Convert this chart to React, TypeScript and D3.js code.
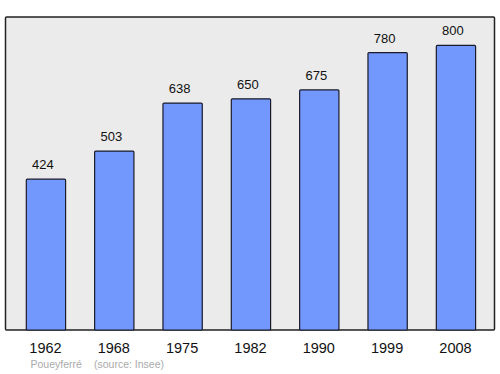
import React from "react";
import * as d3 from "d3";

const years = ["1962", "1968", "1975", "1982", "1990", "1999", "2008"];
const population = [424, 503, 638, 650, 675, 780, 800];
const commune = "Poueyferré";
const source = "(source: Insee)";

export default function App() {
  const W = 500, H = 374;
  const frame = { x0: 5.5, y0: 17, x1: 494.5, y1: 330 };
  const xs = d3.scaleBand<string>().domain(years).range([26.3, 475.6]).paddingInner(0.425).paddingOuter(0);
  const y = d3.scaleLinear().domain([0, 880]).range([frame.y1, frame.y0]);
  const bw = xs.bandwidth();
  return (
    <svg width={W} height={H} style={{ position: "absolute", left: 0, top: 0 }}
      fontFamily="'Liberation Sans', Arial, sans-serif">
      <rect x={frame.x0} y={frame.y0} width={frame.x1 - frame.x0} height={frame.y1 - frame.y0}
        fill="#ebebeb" stroke="#222" strokeWidth={1.5} rx={1} />
      {years.map((yr, i) => {
        const bx = xs(yr)!;
        const top = y(population[i]);
        return (
          <g key={yr}>
            <rect x={bx} y={top} width={bw} height={frame.y1 - top} fill="#7298fe" stroke="#1a1a2a" strokeWidth={1.2} rx={1} />
            <text x={bx + bw / 2 - 3} y={top - 10} textAnchor="middle" fontSize={13} fill="#111">{population[i]}</text>
            <text x={bx + bw / 2 - 0.5} y={352.5} textAnchor="middle" fontSize={14.5} fill="#111">{yr}</text>
          </g>
        );
      })}
      <text x={30.5} y={367.5} fontSize={10.5} fill="#aaaaaa">{commune}</text>
      <text x={94} y={367.5} fontSize={10.5} fill="#aaaaaa">{source}</text>
    </svg>
  );
}
